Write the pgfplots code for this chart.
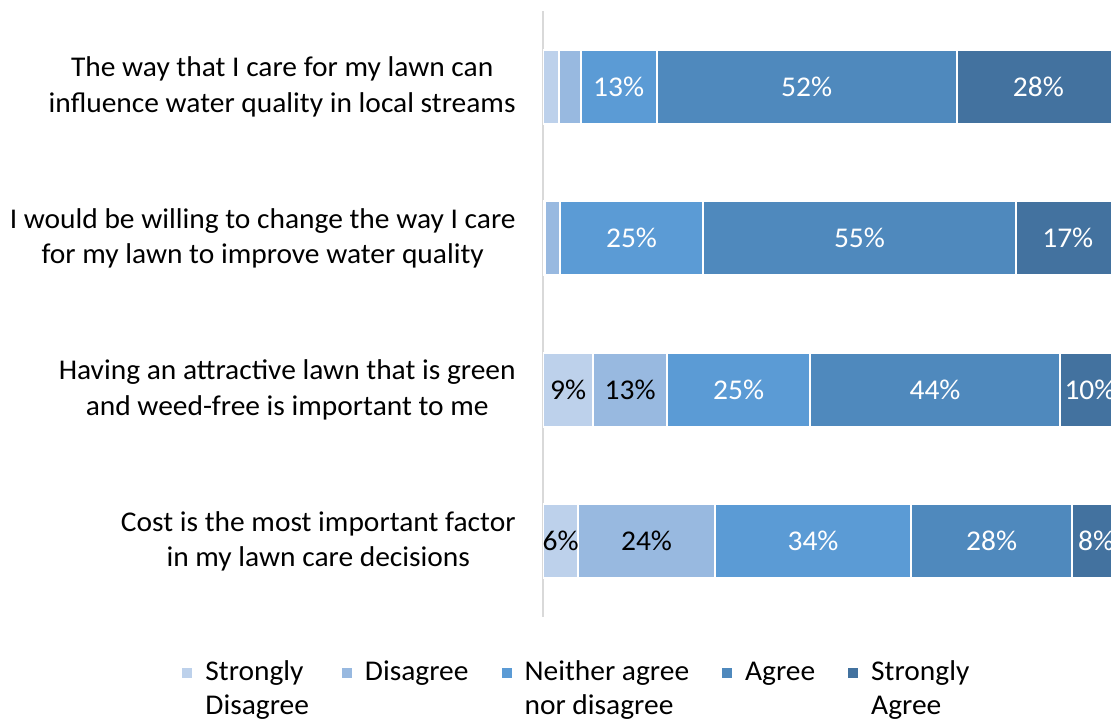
\documentclass[border=0pt]{standalone}
\usepackage{pgfplots}
\pgfplotsset{compat=1.18}
\usepackage{pgfplotstable}
\usepackage{fontspec}
\setmainfont{Carlito}[FakeStretch=1.03]
\definecolor{csd}{HTML}{BDD1EB}
\definecolor{cd}{HTML}{98B9E0}
\definecolor{cn}{HTML}{5B9BD5}
\definecolor{ca}{HTML}{4F89BD}
\definecolor{csa}{HTML}{43729F}
\definecolor{lineg}{HTML}{D9D9D9}

\pgfplotstableread{
y x lab
0 2.7 {}
1 0.3 {}
2 8.7 9\%
3 6.1 6\%
}\tsd
\pgfplotstableread{
y x lab
0 3.8 {}
1 2.6 {}
2 12.8 13\%
3 23.7 24\%
}\td
\pgfplotstableread{
y x lab
0 13.2 13\%
1 24.9 25\%
2 24.8 25\%
3 34.0 34\%
}\tn
\pgfplotstableread{
y x lab
0 52.0 52\%
1 54.1 55\%
2 43.3 44\%
3 27.9 28\%
}\ta
\pgfplotstableread{
y x lab
0 28.3 28\%
1 18.1 17\%
2 10.4 10\%
3 8.3 8\%
}\tsa

\begin{document}
\begin{tikzpicture}
\useasboundingbox (0pt,0pt) rectangle (555.5pt,-360.5pt);
\clip (0pt,0pt) rectangle (555.5pt,-360.5pt);
\begin{axis}[
  at={(271.5pt,-5.5pt)}, anchor=north west,
  scale only axis, width=288.5pt, height=303pt,
  xbar stacked, bar width=37pt,
  xmin=0, xmax=100, ymin=-0.5, ymax=3.5, y dir=reverse,
  axis x line=none, axis y line*=left,
  y axis line style={-, draw=lineg, line width=1pt},
  xtick=\empty, ytick={0,1,2,3}, major tick length=0pt,
  yticklabels={{The way that I care for my lawn can\\influence water quality in local streams},
               {I would be willing to change the way I care\\for my lawn to improve water quality},
               {Having an attractive lawn that is green\\and weed-free is important to me},
               {Cost is the most important factor\\in my lawn care decisions}},
  yticklabel style={align=center, inner sep=0pt, xshift=-13.5pt, font=\fontsize{14.3}{17.8}\selectfont},
  point meta=explicit symbolic,
  nodes near coords,
  every node near coord/.append style={anchor=center, text=white, font=\fontsize{14.3}{17}\selectfont},
  legend columns=5,
  legend image code/.code={\fill[#1] (0pt,0.5pt) rectangle (6pt,6.5pt);},
  legend style={draw=none, fill=none, at={(axis description cs:-0.6291,-0.0644)}, anchor=north west,
    inner sep=0pt, font=\fontsize{14.3}{17}\selectfont, nodes={inner sep=0pt}, cells={anchor=base west},
    /tikz/every odd column/.append style={column sep=5.5pt},
    /tikz/every even column/.append style={column sep=15.5pt}},
]
\addplot[fill=csd, draw=white, line width=1pt, every node near coord/.append style={text=black}] table[x=x, y=y, meta=lab]{\tsd};
\addlegendentry{\begin{tabular}[t]{@{}l@{}}Strongly\\Disagree\end{tabular}}
\addplot[fill=cd, draw=white, line width=1pt, every node near coord/.append style={text=black}] table[x=x, y=y, meta=lab]{\td};
\addlegendentry{Disagree}
\addplot[fill=cn, draw=white, line width=1pt] table[x=x, y=y, meta=lab]{\tn};
\addlegendentry{\begin{tabular}[t]{@{}l@{}}Neither agree\\nor disagree\end{tabular}}
\addplot[fill=ca, draw=white, line width=1pt] table[x=x, y=y, meta=lab]{\ta};
\addlegendentry{Agree}
\addplot[fill=csa, draw=white, line width=1pt] table[x=x, y=y, meta=lab]{\tsa};
\addlegendentry{\begin{tabular}[t]{@{}l@{}}Strongly\\Agree\end{tabular}}
\end{axis}
\end{tikzpicture}
\end{document}
